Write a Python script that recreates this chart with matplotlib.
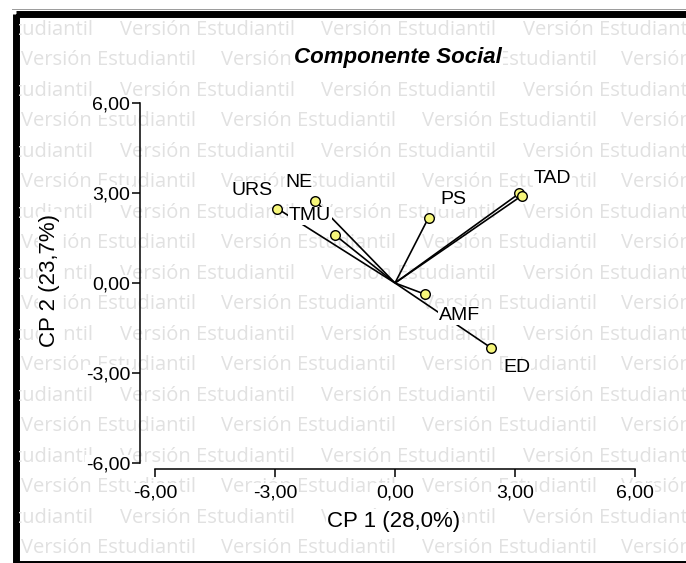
import matplotlib
matplotlib.use("Agg")
import matplotlib.pyplot as plt
from matplotlib.patches import Rectangle

# ---- data ----
variables = ["URS", "NE", "TMU", "PS", "TAD", "TAD2", "AMF", "ED"]
labels = ["URS", "NE", "TMU", "PS", "TAD", "", "AMF", "ED"]
cp1 = [-2.94, -2.00, -1.50, 0.84, 3.11, 3.17, 0.76, 2.40]
cp2 = [2.48, 2.74, 1.60, 2.18, 2.99, 2.91, -0.38, -2.16]
tick_values = [-6, -3, 0, 3, 6]
tick_labels = ["-6,00", "-3,00", "0,00", "3,00", "6,00"]
title = "Componente Social"
xlabel = "CP 1 (28,0%)"
ylabel = "CP 2 (23,7%)"
watermark = "Versión Estudiantil"

# label offsets in pixels (style)
label_offsets = {"URS": (-25, 18), "NE": (-16, 18), "TMU": (-25, 19), "PS": (25, 18),
                 "TAD": (33, 15), "AMF": (34, -21), "ED": (26, -20)}

W, H = 686, 563
fig = plt.figure(figsize=(W / 100, H / 100), dpi=100)

# background layer with watermark and frame
bg = fig.add_axes([0, 0, 1, 1], zorder=0)
bg.set_xlim(0, W)
bg.set_ylim(H, 0)
bg.axis("off")
clip = Rectangle((19, 17), W - 19, 560 - 17, transform=bg.transData, fill=False, lw=0)
bg.add_patch(clip)
for k in range(18):
    y = 30 + 30.47 * k
    starts = [-82, 120, 321, 523] if k % 2 == 0 else [21, 221, 422, 621]
    for x in starts:
        t = bg.text(x, y, watermark, ha="left", va="center", color="#e1e1e1",
                    fontsize=14.5, family="Open Sans", clip_on=True)
        t.set_clip_path(clip)
bg.add_patch(Rectangle((15.5, 13.5), 700, 550, fill=False, lw=5.0, edgecolor="black"))
bg.plot([12, W], [9.3, 9.3], color="#9a9a9a", lw=0.7)

# main axes
ax = fig.add_axes([155 / W, (H - 463) / H, 480 / W, 360 / H], zorder=1)
ax.patch.set_alpha(0)
ax.set_xlim(-6, 6)
ax.set_ylim(-6, 6)
for s in ["top", "right"]:
    ax.spines[s].set_visible(False)
ax.spines["left"].set_position(("outward", 10.8))
ax.spines["bottom"].set_position(("outward", 4.3))
for s in ["left", "bottom"]:
    ax.spines[s].set_linewidth(1.1)
ax.set_xticks(tick_values)
ax.set_xticklabels(tick_labels)
ax.set_yticks(tick_values)
ax.set_yticklabels(tick_labels)
ax.tick_params(axis="both", direction="out", length=6, width=1.1, labelsize=14)
ax.tick_params(axis="y", pad=1)
ax.tick_params(axis="x", pad=5)
for lbl in ax.get_xticklabels() + ax.get_yticklabels():
    lbl.set_family("Liberation Sans")
    lbl.set_bbox(dict(facecolor="white", edgecolor="none", pad=1))

for x, y in zip(cp1, cp2):
    ax.plot([0, x], [0, y], color="black", lw=1.2, zorder=2, solid_capstyle="butt")
ax.scatter(cp1, cp2, s=48, facecolor="#f6f67a", edgecolor="black", linewidth=1.0, zorder=3)
for x, y, lab in zip(cp1, cp2, labels):
    if not lab:
        continue
    dx, dy = label_offsets[lab]
    ax.annotate(lab, (x, y), xytext=(dx, dy), textcoords="offset pixels",
                ha="center", va="center", fontsize=14, family="Liberation Sans",
                bbox=dict(facecolor="white", edgecolor="none", pad=0.5), zorder=4)

fig.text(398 / W, 1 - 57 / H, title, ha="center", va="center", fontsize=16,
         fontweight="bold", fontstyle="italic", family="Liberation Sans",
         bbox=dict(facecolor="white", edgecolor="none", pad=1), zorder=5)
fig.text(394 / W, 1 - 521 / H, xlabel, ha="center", va="center", fontsize=16,
         family="Liberation Sans", bbox=dict(facecolor="white", edgecolor="none", pad=1), zorder=5)
fig.text(50 / W, 1 - 280 / H, ylabel, ha="center", va="center", fontsize=16, rotation=90,
         family="Liberation Sans", bbox=dict(facecolor="white", edgecolor="none", pad=1), zorder=5)

fig.savefig("out.png", dpi=100)
